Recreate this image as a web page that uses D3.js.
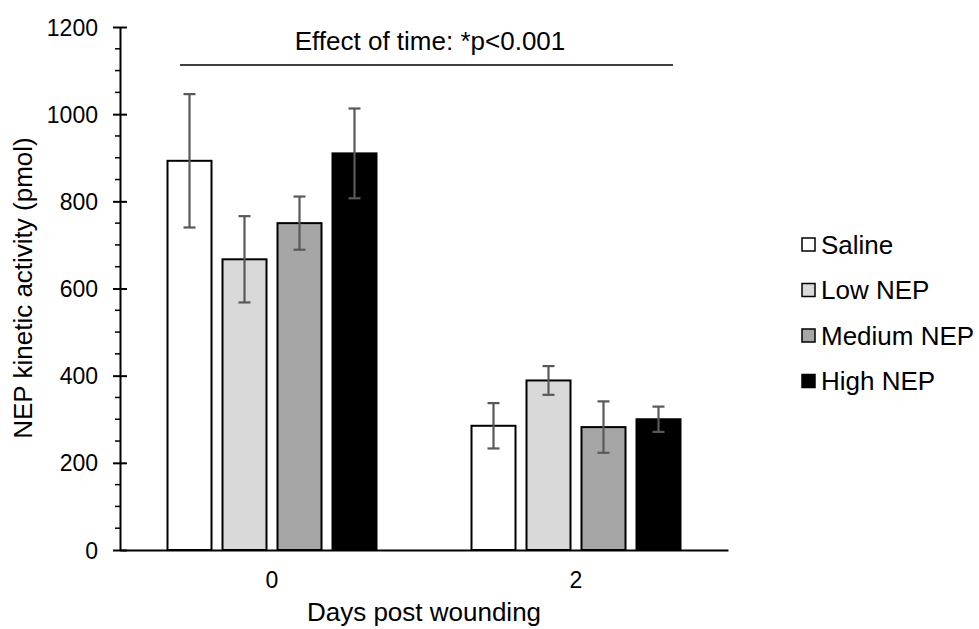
<!DOCTYPE html>
<html><head><meta charset="utf-8">
<script src="https://cdn.jsdelivr.net/npm/d3@7"></script>
<style>body{margin:0;background:#fff;} text{font-family:"Liberation Sans",Arial,sans-serif;fill:#000;}</style>
</head><body><svg id="c" width="979" height="629"></svg>
<script>
const days = ["0", "2"];
const groups = ["Saline", "Low NEP", "Medium NEP", "High NEP"];
const colors = ["#ffffff", "#d9d9d9", "#a6a6a6", "#000000"];
const meanDay0 = [893, 667, 750, 910];
const meanDay2 = [285, 389, 282, 300];
const errDay0 = [153, 99, 61, 103];
const errDay2 = [52, 33, 59, 29];
const yTicks = [0, 200, 400, 600, 800, 1000, 1200];
const yLabel = "NEP kinetic activity (pmol)";
const xLabel = "Days post wounding";
const annotation = "Effect of time: *p<0.001";

const means = [meanDay0, meanDay2];
const errs = [errDay0, errDay2];
const data = [];
days.forEach((d, i) => groups.forEach((g, j) => data.push({day: d, group: g, gi: j, v: means[i][j], e: errs[i][j]})));

const FONT = "Liberation Sans, Arial, sans-serif";
const svg = d3.select("#c");
const x0 = d3.scaleBand().domain(days).range([120, 728]).paddingInner(0).paddingOuter(0);
const x1 = d3.scaleBand().domain(groups).range([0, 220]).paddingInner(0.2).paddingOuter(0.1);
const groupOffset = (x0.bandwidth() - 220) / 2;
const y = d3.scaleLinear().domain([0, 1200]).range([550, 27]);

// minor ticks
const yMinor = d3.range(0, 1201, 50).filter(v => v % 200 !== 0);
svg.append("g").selectAll("line").data(yMinor).join("line")
  .attr("x1", 115).attr("x2", 120).attr("y1", d => y(d)).attr("y2", d => y(d))
  .attr("stroke", "#000").attr("stroke-width", 1.5);

// y axis
const yAxis = svg.append("g").attr("transform", "translate(120,0)")
  .call(d3.axisLeft(y).tickValues(yTicks).tickFormat(d3.format("d")).tickSize(7).tickPadding(15).tickSizeOuter(0));
yAxis.select(".domain").attr("stroke", "#000").attr("stroke-width", 2);
yAxis.selectAll(".tick line").attr("stroke-width", 2).attr("x2", 7).attr("x1", -7);
yAxis.selectAll(".tick text").attr("font-size", 23).attr("font-family", FONT).attr("dy", "0.35em");

// bars
const bars = svg.append("g");
bars.selectAll("rect").data(data).join("rect")
  .attr("x", d => x0(d.day) + groupOffset + x1(d.group))
  .attr("width", x1.bandwidth())
  .attr("y", d => y(d.v))
  .attr("height", d => y(0) - y(d.v))
  .attr("fill", d => colors[d.gi])
  .attr("stroke", "#000").attr("stroke-width", 2);

// x axis
const xAxis = svg.append("g").attr("transform", "translate(0,550)")
  .call(d3.axisBottom(x0).tickSize(0).tickPadding(22));
xAxis.select(".domain").attr("stroke", "#000").attr("stroke-width", 2);
xAxis.selectAll(".tick text").attr("font-size", 23).attr("font-family", FONT);

// error bars
const eb = svg.append("g").attr("stroke", "#595959").attr("stroke-width", 2.2);
data.forEach(d => {
  const cx = x0(d.day) + groupOffset + x1(d.group) + x1.bandwidth() / 2;
  eb.append("line").attr("x1", cx).attr("x2", cx).attr("y1", y(d.v + d.e)).attr("y2", y(d.v - d.e));
  [d.v + d.e, d.v - d.e].forEach(t => eb.append("line").attr("x1", cx - 6).attr("x2", cx + 6).attr("y1", y(t)).attr("y2", y(t)));
});

// annotation
svg.append("line").attr("x1", 180).attr("x2", 673).attr("y1", 65).attr("y2", 65).attr("stroke", "#000").attr("stroke-width", 1.5);
svg.append("text").attr("x", 430).attr("y", 50).attr("text-anchor", "middle").attr("font-size", 26).text(annotation);

// axis titles
svg.append("text").attr("x", 424).attr("y", 621).attr("text-anchor", "middle").attr("font-size", 26).text(xLabel);
svg.append("text").attr("transform", "translate(32,288) rotate(-90)").attr("text-anchor", "middle").attr("font-size", 26).text(yLabel);

// legend
const leg = svg.append("g");
groups.forEach((g, i) => {
  const yy = 244.5 + i * 45.5;
  leg.append("rect").attr("x", 802).attr("y", yy - 6.5).attr("width", 13).attr("height", 13)
    .attr("fill", colors[i]).attr("stroke", "#000").attr("stroke-width", 1.5);
  leg.append("text").attr("x", 821).attr("y", yy).attr("dy", "0.35em").attr("font-size", 26).text(g);
});
</script></body></html>
